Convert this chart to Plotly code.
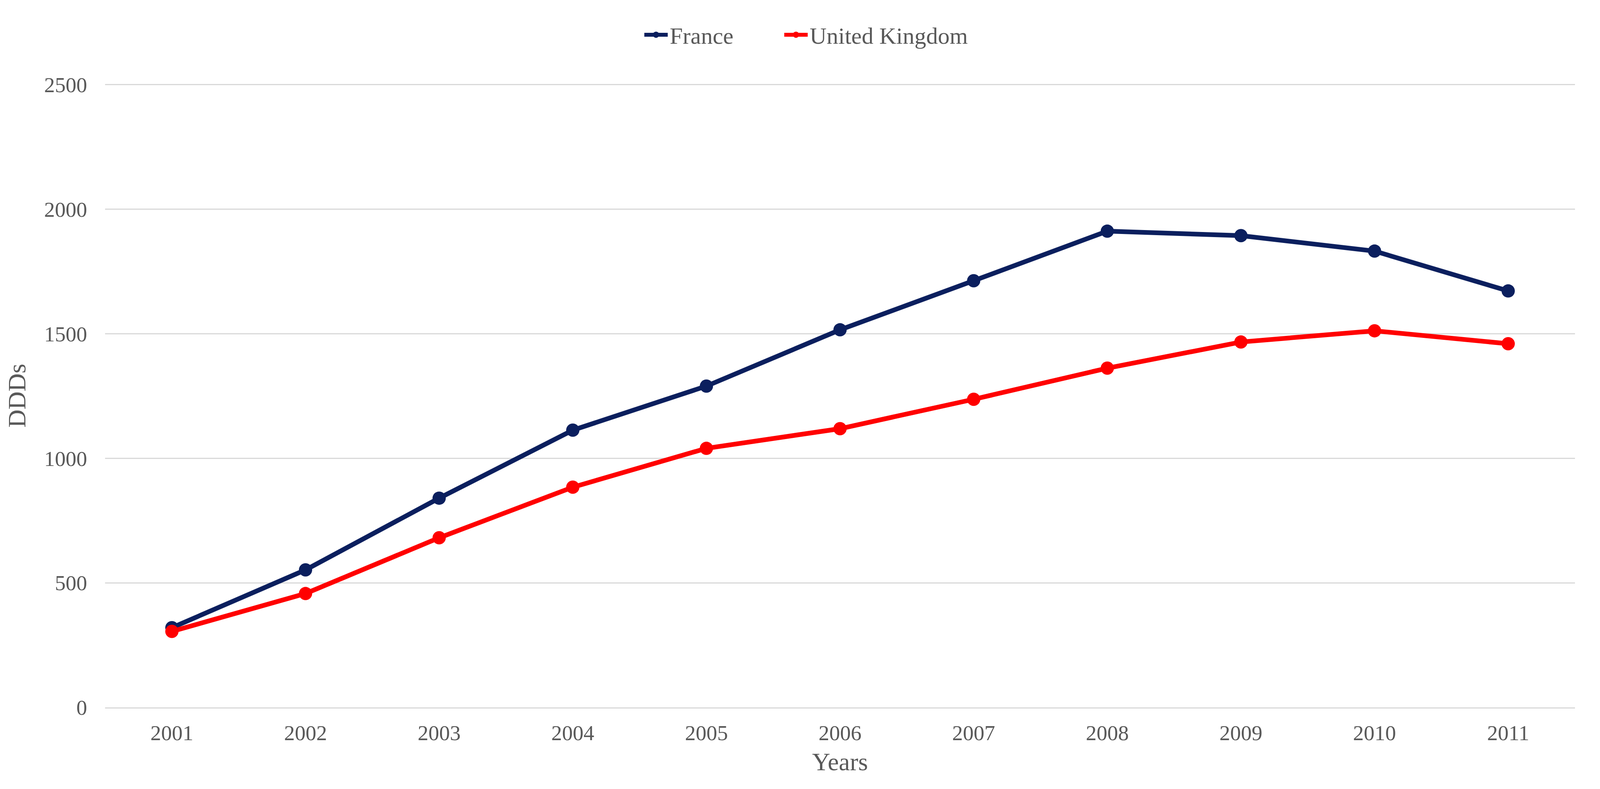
import plotly.graph_objects as go

years = ["2001", "2002", "2003", "2004", "2005", "2006", "2007", "2008", "2009", "2010", "2011"]
france = [320, 552, 840, 1113, 1290, 1516, 1713, 1912, 1894, 1832, 1672]
uk = [305, 457, 681, 884, 1040, 1119, 1237, 1362, 1467, 1512, 1460]
y_ticks = [0, 500, 1000, 1500, 2000, 2500]

FONT = "Liberation Serif"
GREY = "#595959"

fig = go.Figure()
fig.add_trace(go.Scatter(x=years, y=france, name="France" + "\u00a0" * 8, mode="lines+markers",
                         line=dict(color="#0B1F5E", width=12),
                         marker=dict(color="#0B1F5E", size=34)))
fig.add_trace(go.Scatter(x=years, y=uk, name="United Kingdom", mode="lines+markers",
                         line=dict(color="#FF0000", width=12),
                         marker=dict(color="#FF0000", size=34)))

fig.update_layout(
    width=4097, height=2020,
    margin=dict(l=261, r=73, t=207, b=217),
    paper_bgcolor="white", plot_bgcolor="white",
    font=dict(family=FONT, color=GREY, size=55),
    showlegend=True,
    legend=dict(orientation="h", x=0.477, y=1.079, xanchor="center", yanchor="middle",
                font=dict(family=FONT, size=60, color=GREY), itemwidth=60,
                bgcolor="rgba(0,0,0,0)"),
)
fig.update_xaxes(
    type="category", range=[-0.5, 10.5], showgrid=False, zeroline=False,
    showline=True, linecolor="#D9D9D9", linewidth=3, ticks="",
    tickfont=dict(family=FONT, size=55, color=GREY), ticklabelstandoff=15,
    title=dict(text="Years", font=dict(family=FONT, size=64, color=GREY), standoff=22),
)
fig.update_yaxes(
    range=[0, 2503], tickvals=y_ticks, showgrid=True, gridcolor="#D9D9D9", gridwidth=3,
    zeroline=False, showline=False, ticks="",
    tickfont=dict(family=FONT, size=55, color=GREY), ticklabelstandoff=45,
    title=dict(text="DDDs", font=dict(family=FONT, size=64, color=GREY), standoff=36),
)

fig.write_html("out.html")
